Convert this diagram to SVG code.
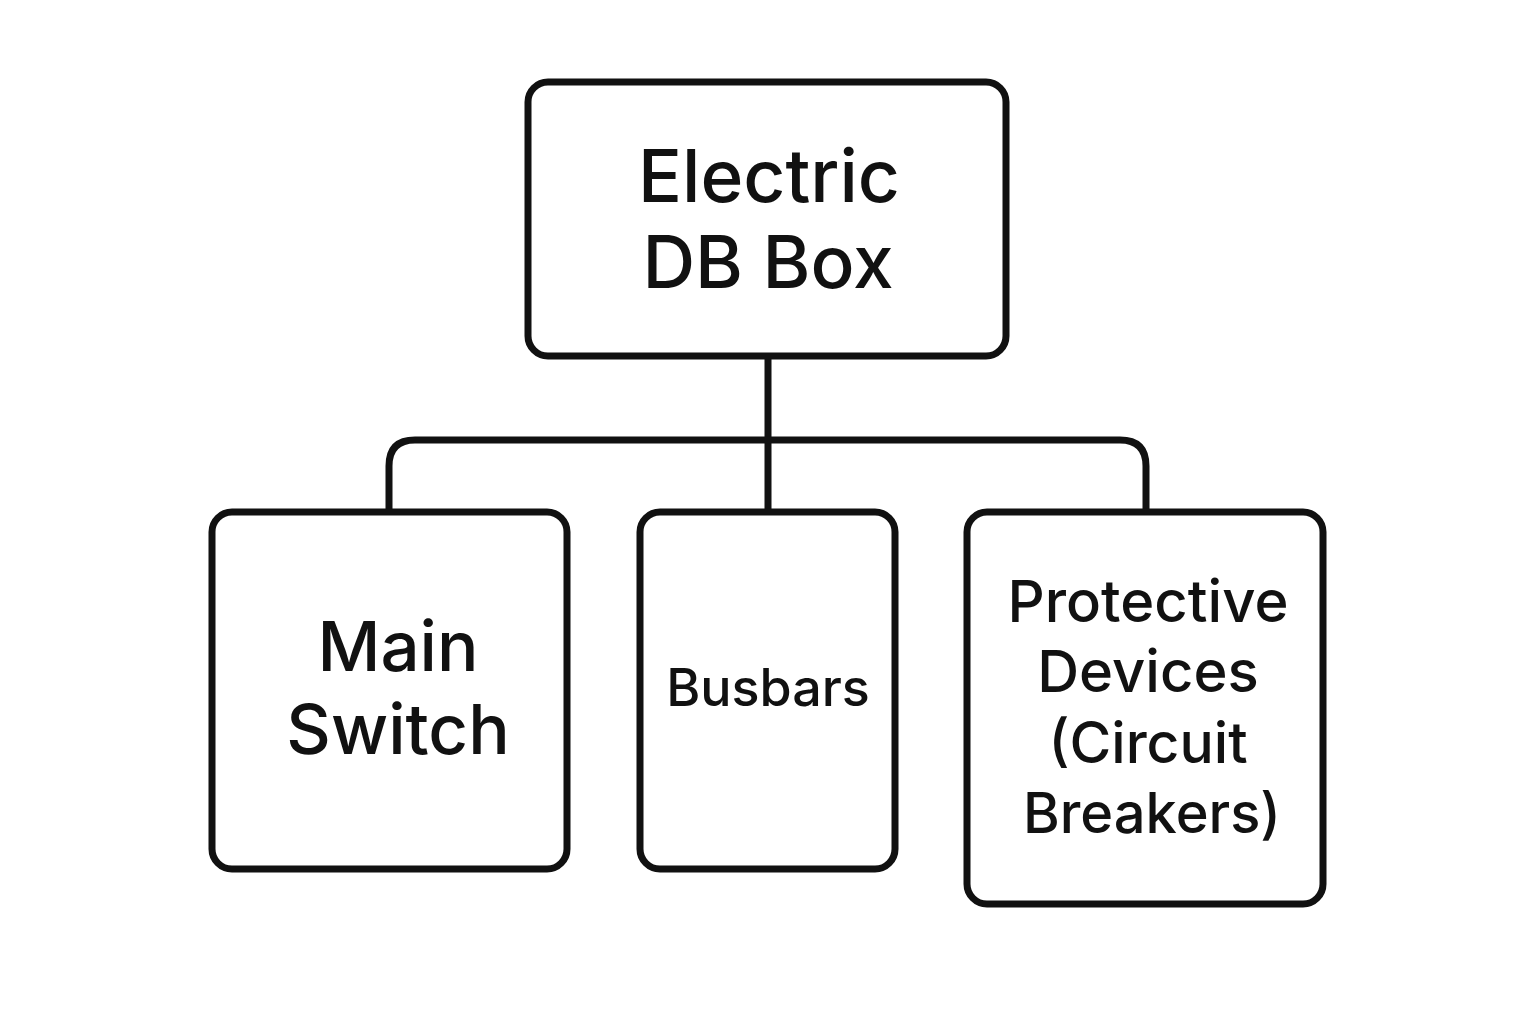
<svg xmlns="http://www.w3.org/2000/svg" width="1536" height="1024" viewBox="0 0 1536 1024">
<style>
.box{fill:#fff;stroke:#111;stroke-width:7}
.conn{fill:none;stroke:#111;stroke-width:7}
text{font-family:Inter,"Noto Sans","Liberation Sans",sans-serif;font-weight:500;fill:#111;text-anchor:middle}
</style>
<rect width="1536" height="1024" fill="#fff"/>
<g id="connectors">
<path class="conn" d="M768 356 V512"/>
<path class="conn" d="M389 512 V466 Q389 440 415 440 H1120 Q1146 440 1146 466 V512"/>
</g>
<g id="node-db">
<rect class="box" x="528" y="82" width="478" height="274" rx="20"/>
<text x="769" y="202" font-size="73">Electric</text>
<text x="768" y="288" font-size="73">DB Box</text>
</g>
<g id="node-main">
<rect class="box" x="212" y="512" width="355" height="357" rx="20"/>
<text x="398" y="671" font-size="69">Main</text>
<text x="398" y="754" font-size="69">Switch</text>
</g>
<g id="node-busbars">
<rect class="box" x="640" y="512" width="255" height="357" rx="20"/>
<text x="768" y="706" font-size="52">Busbars</text>
</g>
<g id="node-protective">
<rect class="box" x="967" y="512" width="356" height="392" rx="20"/>
<text x="1148" y="622" font-size="58">Protective</text>
<text x="1148" y="692" font-size="58">Devices</text>
<text x="1148" y="763" font-size="57">(Circuit</text>
<text x="1152" y="833" font-size="56">Breakers)</text>
</g>
</svg>
